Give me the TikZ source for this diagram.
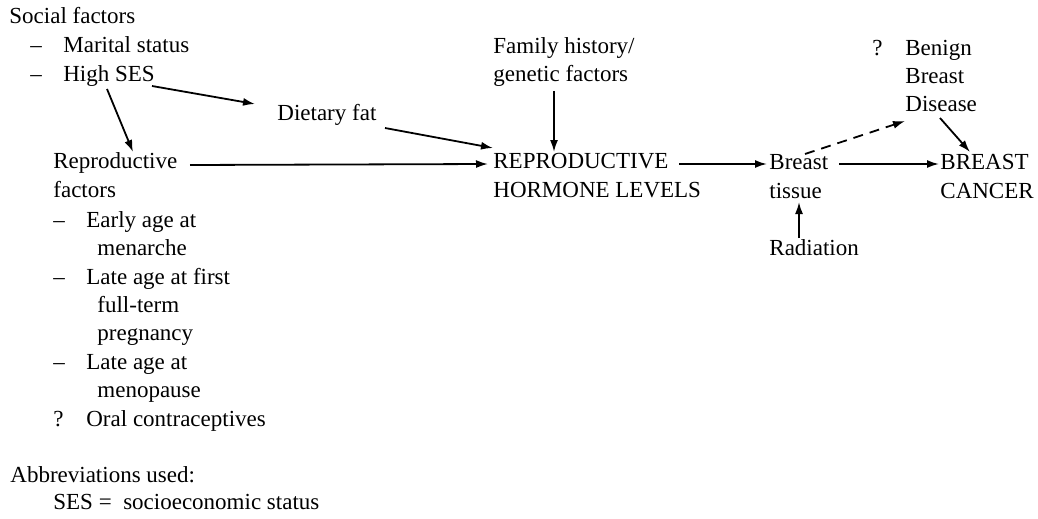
\documentclass[tikz,border=0pt]{standalone}
\usepackage{fontspec}
\setmainfont{Liberation Serif}
\usepackage{tikz}
\usetikzlibrary{arrows.meta}

% bullet box for list lines
\newcommand{\itm}[1]{\makebox[16.5pt][l]{#1}}

\begin{document}
\begin{tikzpicture}[x=0.5pt, y=-0.5pt,
    lbl/.style={inner sep=0pt, anchor=base west, align=left, font=\fontsize{11.5}{14.2}\selectfont},
    arrow/.style={-{Latex[length=6pt, width=4pt]}, line width=0.9pt},
    dasharrow/.style={arrow, dash pattern=on 5pt off 3.5pt}
]
\useasboundingbox (0,0) rectangle (1038,519);

% left column (multi-line nodes sit on their last line)
\node[lbl] (social)  at (9,24)  {Social factors};
\node[lbl] (marital) at (30,53) {\itm{--}Marital status};
\node[lbl] (highses) at (30,82) {\itm{--}High SES};
\node[lbl] (diet)    at (277,120) {Dietary fat};
\node[lbl] (repro)   at (53,197) {Reproductive\\factors};
\node[lbl] (replist) at (53,426) {\itm{--}Early age at\\
    \hspace*{22pt}menarche\\
    \itm{--}Late age at first\\
    \hspace*{22pt}full-term\\
    \hspace*{22pt}pregnancy\\
    \itm{--}Late age at\\
    \hspace*{22pt}menopause\\
    \itm{?}Oral contraceptives};

% middle and right
\node[lbl] (famhist)   at (493,82)  {Family history/\\genetic factors};
\node[lbl] (hormone)   at (493,197) {REPRODUCTIVE\\HORMONE LEVELS};
\node[lbl] (tissue)    at (769,198) {Breast\\tissue};
\node[lbl] (radiation) at (769,255) {Radiation};
\node[lbl] (benign)    at (872,112) {\itm{?}Benign\\\hspace*{16.5pt}Breast\\\hspace*{16.5pt}Disease};
\node[lbl] (cancer)    at (940,198) {BREAST\\CANCER};

% footnote
\node[lbl] (abbrev) at (10,482) {Abbreviations used:};
\node[lbl] (sesdef) at (53,509) {SES = \ socioeconomic status};

\draw[arrow] ([shift={(122,4)}]highses.base west) -- ([shift={(-22,-16)}]diet.base west);
\draw[arrow] ([shift={(77,7)}]highses.base west) -- ([shift={(80,-45)}]repro.base west);
\draw[arrow] ([shift={(137,-32)}]repro.base west) -- ([shift={(-5,-33)}]hormone.base west);
\draw[arrow] ([shift={(108,8)}]diet.base west) -- ([shift={(0,-49)}]hormone.base west);
\draw[arrow] ([shift={(61,9)}]famhist.base west) -- ([shift={(61,-45)}]hormone.base west);
\draw[arrow] ([shift={(186,-33)}]hormone.base west) -- ([shift={(-2,-34)}]tissue.base west);
\draw[arrow] ([shift={(30,-17)}]radiation.base west) -- ([shift={(30,4)}]tissue.base west);
\draw[arrow] ([shift={(70,-34)}]tissue.base west) -- ([shift={(-1,-34)}]cancer.base west);
\draw[dasharrow] ([shift={(36,-44)}]tissue.base west) -- ([shift={(33,9)}]benign.base west);
\draw[arrow] ([shift={(68,6)}]benign.base west) -- ([shift={(30,-46)}]cancer.base west);
\end{tikzpicture}
\end{document}
